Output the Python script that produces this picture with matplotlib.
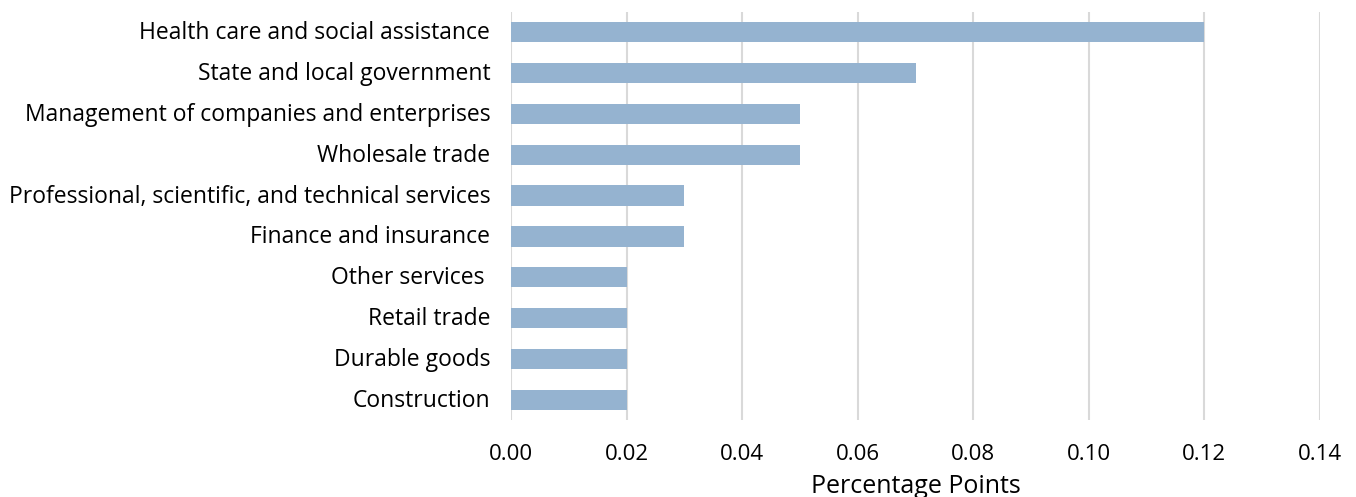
import matplotlib
matplotlib.use("Agg")
import matplotlib.pyplot as plt
import matplotlib.transforms as mtransforms

categories = [
    "Health care and social assistance",
    "State and local government",
    "Management of companies and enterprises",
    "Wholesale trade",
    "Professional, scientific, and technical services",
    "Finance and insurance",
    "Other services ",
    "Retail trade",
    "Durable goods",
    "Construction",
]
values = [0.12, 0.07, 0.05, 0.05, 0.03, 0.03, 0.02, 0.02, 0.02, 0.02]
xticks = [0.00, 0.02, 0.04, 0.06, 0.08, 0.10, 0.12, 0.14]

FONT = ["Open Sans", "DejaVu Sans"]

fig = plt.figure(figsize=(13.56, 4.97), dpi=100)
ax = fig.add_axes([511 / 1356, 1 - 420 / 497, (1320 - 511) / 1356, (420 - 12) / 497])

pos = list(range(len(categories)))[::-1]
ax.barh(pos, values, height=0.49, color="#95B3D0", zorder=3)

ax.set_xlim(0, 0.14)
ax.set_ylim(-0.48, len(categories) - 0.52)
ax.set_xticks(xticks)
ax.set_xticklabels([f"{t:.2f}" for t in xticks], fontsize=16, family=FONT)
ax.set_yticks(pos)
ax.set_yticklabels(categories, fontsize=16.5, family=FONT)
ax.tick_params(axis="y", length=0, pad=15)
ax.tick_params(axis="x", length=0, pad=17)

# lift the category labels slightly so they sit centred on the bars
shift = mtransforms.ScaledTranslation(0, 2 / 100, fig.dpi_scale_trans)
for lbl in ax.get_yticklabels():
    lbl.set_transform(lbl.get_transform() + shift)

ax.grid(axis="x", color="#d9d9d9", linewidth=1.5, zorder=0)
ax.grid(axis="y", visible=False)
for s in ax.spines.values():
    s.set_visible(False)

ax.set_xlabel("Percentage Points", fontsize=18, family=FONT, labelpad=7)

fig.savefig("out.png", dpi=100)
